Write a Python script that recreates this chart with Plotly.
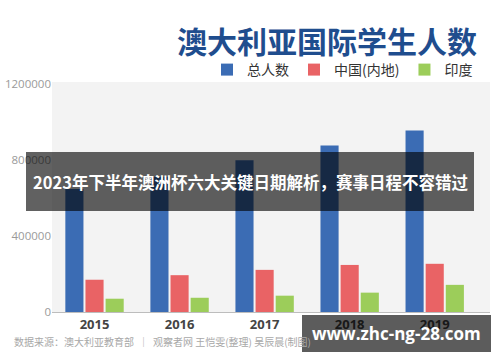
import plotly.graph_objects as go

years = ["2015", "2016", "2017", "2018", "2019"]
total = [648000, 713000, 799000, 878000, 957000]
china = [170000, 194000, 222000, 248000, 254000]
india = [70000, 75000, 86000, 102000, 143000]

series_names = ["总人数", "中国(内地)", "印度"]
colors = ["#3b6cb4", "#e96365", "#9ccd5a"]
y_ticks = [0, 400000, 800000, 1200000]

FONT = "Noto Sans CJK SC, Noto Sans, sans-serif"

fig = go.Figure()
for name, vals, c in zip(series_names, [total, china, india], colors):
    fig.add_trace(go.Bar(x=years, y=vals, name=name, marker=dict(color=c, line=dict(width=0))))

L, R, T, B = 52, 10, 82, 50
W, H = 500, 362
pw, ph = W - L - R, H - T - B

def px(x):
    return (x - L) / pw

def py(y):
    return (H - B - y) / ph

fig.update_layout(
    width=W, height=H,
    margin=dict(l=L, r=R, t=T, b=B, autoexpand=False),
    paper_bgcolor="white",
    plot_bgcolor="#f3f3f3",
    barmode="group",
    bargap=0.29,
    bargroupgap=0.1,
    font=dict(family=FONT),
    showlegend=True,
    legend=dict(
        orientation="h",
        x=px(478), xanchor="right",
        y=py(70), yanchor="middle",
        font=dict(size=14, color="#333333", family=FONT),
        bgcolor="rgba(0,0,0,0)",
        traceorder="normal",
    ),
    xaxis=dict(
        type="category",
        range=[-0.5, 4.65],
        showgrid=False,
        automargin=False,
        showline=True, linecolor="#bdbdbd", linewidth=1,
        ticks="",
        tickfont=dict(size=13, color="#444444", family="Open Sans, " + FONT, weight="bold"),
    ),
    yaxis=dict(
        range=[0, 1212000],
        tickvals=y_ticks,
        ticktext=[str(v) for v in y_ticks],
        showgrid=False,
        automargin=False,
        zeroline=False,
        showline=False,
        ticks="",
        tickfont=dict(size=11.5, color="#9a9a9a", family="Open Sans, sans-serif"),
    ),
)

# Title
fig.add_annotation(
    xref="paper", yref="paper", x=px(479), y=py(40), xanchor="right", yanchor="middle",
    text="<b>澳大利亚国际学生人数</b>", showarrow=False,
    font=dict(size=30, color="#1f4d8e", family=FONT, weight=900),
)

# Source
fig.add_annotation(
    xref="paper", yref="paper", x=px(12), y=py(341), xanchor="left", yanchor="middle",
    text="数据来源：澳大利亚教育部  ｜  观察者网 王恺雯(整理) 吴辰晨(制图)", showarrow=False,
    font=dict(size=10, color="#a8a8a8", family=FONT),
)

# Overlay banner
fig.add_shape(
    type="rect", xref="paper", yref="paper",
    x0=px(26), x1=px(474), y0=py(211), y1=py(152),
    fillcolor="rgba(0,0,0,0.62)", line=dict(width=0), layer="above",
)
fig.add_annotation(
    xref="paper", yref="paper", x=px(250), y=py(182), xanchor="center", yanchor="middle",
    text="<b>2023年下半年澳洲杯六大关键日期解析，赛事日程不容错过</b>", showarrow=False,
    font=dict(size=16.5, color="white", family=FONT),
)

# Watermark
fig.add_shape(
    type="rect", xref="paper", yref="paper",
    x0=px(302), x1=px(491), y0=py(352), y1=py(315),
    fillcolor="rgba(0,0,0,0.64)", line=dict(width=0), layer="above",
)
fig.add_annotation(
    xref="paper", yref="paper", x=px(396), y=py(333), xanchor="center", yanchor="middle",
    text="<b>www.zhc-ng-28.com</b>", showarrow=False,
    font=dict(size=17, color="white", family="Open Sans, " + FONT),
)

fig.write_html(
    "out.html",
    config={"displayModeBar": False},
    post_script="document.body.style.margin='0';document.body.style.padding='0';",
)
